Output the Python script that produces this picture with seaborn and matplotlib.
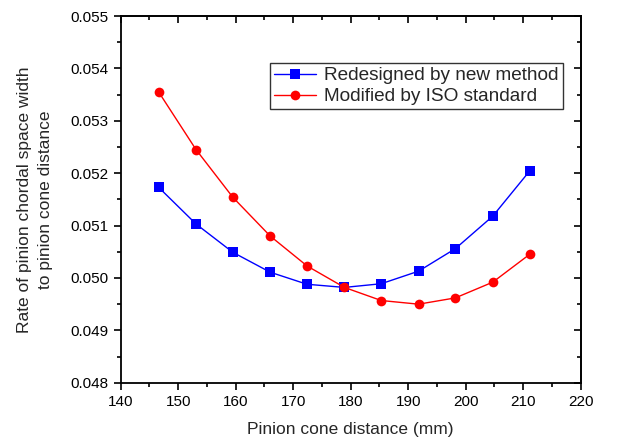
import numpy as np
import pandas as pd
import matplotlib
matplotlib.use("Agg")
import matplotlib.pyplot as plt
from matplotlib.ticker import MultipleLocator, FormatStrFormatter, NullFormatter
import seaborn as sns

# data
cone_distance = [146.6, 153.1, 159.5, 166.0, 172.4, 178.9, 185.3, 191.8, 198.2, 204.7, 211.1]
redesigned = [0.05173, 0.05103, 0.05049, 0.05011, 0.04988, 0.04982, 0.04989, 0.05013, 0.05056, 0.05118, 0.05204]
iso_modified = [0.05355, 0.05245, 0.05154, 0.05080, 0.05023, 0.04982, 0.04957, 0.04950, 0.04962, 0.04992, 0.05045]

sns.set_style("ticks")
plt.rcParams['font.family'] = ['Liberation Sans', 'DejaVu Sans']

df = pd.DataFrame({
    "x": cone_distance * 2,
    "y": redesigned + iso_modified,
    "series": ["Redesigned by new method"] * len(cone_distance) + ["Modified by ISO standard"] * len(cone_distance),
})

fig = plt.figure(figsize=(6.41, 4.42), dpi=100)
ax = fig.add_axes([0.1883, 0.134, 0.7177, 0.8298])

sns.lineplot(data=df, x="x", y="y", hue="series", style="series",
             palette={"Redesigned by new method": "#0000ff", "Modified by ISO standard": "#ff0000"},
             markers={"Redesigned by new method": "s", "Modified by ISO standard": "o"},
             dashes=False, linewidth=1.0, markersize=7, markeredgewidth=0, ax=ax)

ax.set_xlim(140, 220)
ax.set_ylim(0.048, 0.055)
ax.xaxis.set_major_locator(MultipleLocator(10))
ax.xaxis.set_minor_locator(MultipleLocator(5))
ax.yaxis.set_major_locator(MultipleLocator(0.001))
ax.yaxis.set_minor_locator(MultipleLocator(0.0005))
ax.yaxis.set_major_formatter(FormatStrFormatter("%.3f"))
ax.tick_params(which="both", direction="out", labelsize=11, width=1.2, colors="black")
ax.tick_params(which="major", length=5)
ax.tick_params(which="minor", length=3)
for s in ax.spines.values():
    s.set_linewidth(1.3)
    s.set_color("black")

# mirrored ticks on top and right, pointing inward
top = ax.secondary_xaxis("top")
right = ax.secondary_yaxis("right")
for sec, axis in ((top, top.xaxis), (right, right.yaxis)):
    if sec is top:
        axis.set_major_locator(MultipleLocator(10))
        axis.set_minor_locator(MultipleLocator(5))
    else:
        axis.set_major_locator(MultipleLocator(0.001))
        axis.set_minor_locator(MultipleLocator(0.0005))
    axis.set_major_formatter(NullFormatter())
    sec.tick_params(which="both", direction="in", width=1.2, colors="black")
    sec.tick_params(which="major", length=5)
    sec.tick_params(which="minor", length=3)
    for s in sec.spines.values():
        s.set_linewidth(1.3)

ax.set_xlabel("Pinion cone distance (mm)", fontsize=12.5, labelpad=10)
ax.set_ylabel("Rate of pinion chordal space width\nto pinion cone distance", fontsize=12.5,
              labelpad=13, linespacing=1.45)

leg = ax.legend(loc="upper left", bbox_to_anchor=(0.325, 0.872), fontsize=13.7, frameon=True,
                fancybox=False, edgecolor="black", handlelength=2.2, borderpad=0.22,
                labelspacing=0.18, handletextpad=0.4, borderaxespad=0)
leg.get_frame().set_linewidth(1.0)

fig.savefig("out.png", dpi=100)
